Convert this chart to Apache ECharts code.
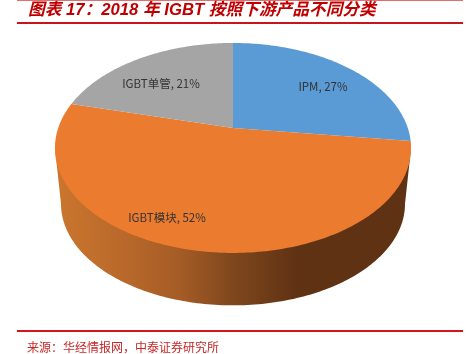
<!DOCTYPE html>
<html>
<head>
<meta charset="utf-8">
<style>
html,body{margin:0;padding:0;background:#fff;}
#main{width:466px;height:354px;}
</style>
<script src="https://cdn.jsdelivr.net/npm/echarts@6/dist/echarts.min.js"></script>
</head>
<body>
<div id="main"></div>
<script>
var names = ['IPM', 'IGBT模块', 'IGBT单管'];
var values = [27, 52, 21];
var titleText = '图表 17：2018 年 IGBT 按照下游产品不同分类';
var sourceText = '来源：华经情报网，中泰证券研究所';

var colors = ['#5b9bd5', '#ea7b2f', '#a5a5a5'];
var labelPos = [[323, 87], [167, 218], [161, 84]];

// tilted disc: perspective projection of a circle, apex is the pie centre
var cx = 233, cy = 128, A = 174.8, B = 101.2, k = 0.19;
var depth = 56, shrink = 0.966;
var total = 0;
for(var i=0; i<values.length; i++){
	total += values[i];
}

function project(deg, bottom){
	var t = deg * Math.PI / 180;
	var u = Math.sin(t), v = Math.cos(t);
	var w = 1 + k * v;
	var s = bottom ? shrink : 1;
	return [cx + s * A * u / w, cy + (bottom ? depth + (1 - s) * 20 : 0) - s * B * v / w];
}

function sliceRange(index, api){
	var before = 0;
	for(var i=0; i<index; i++){
		before += values[i];
	}
	return [before / total * 360, (before + api.value(0)) / total * 360];
}

function renderTop(params, api){
	var r = sliceRange(params.dataIndex, api);
	var pts = [[cx, cy]];
	for(var d=r[0]; d<r[1]; d+=1){
		pts.push(project(d));
	}
	pts.push(project(r[1]));
	var p = labelPos[params.dataIndex];
	return {
		type: 'group',
		children: [{
			type: 'polygon',
			shape: {points: pts},
			style: {fill: colors[params.dataIndex]}
		}, {
			type: 'text',
			z2: 10,
			style: {
				x: p[0], y: p[1],
				text: names[params.dataIndex] + ', ' + api.value(0) + '%',
				fill: '#333',
				font: '11.5px "Liberation Sans Narrow", "Noto Sans CJK SC", sans-serif',
				align: 'center',
				verticalAlign: 'middle'
			}
		}]
	};
}

function renderSide(params, api){
	var r = sliceRange(params.dataIndex, api);
	// only the front part of the rim is visible
	var edge = Math.asin(k) * 180 / Math.PI;
	var from = Math.max(r[0], 90 + edge), to = Math.min(r[1], 270 - edge);
	if(from >= to){
		return;
	}
	var pts = [project(from)];
	for(var d=from; d<to; d+=1){
		pts.push(project(d, true));
	}
	pts.push(project(to, true));
	pts.push(project(to));
	return {
		type: 'polygon',
		shape: {points: pts},
		style: {
			fill: new echarts.graphic.LinearGradient(55, 0, 411, 0, [
				{offset: 0, color: '#cb762e'},
				{offset: 0.2, color: '#b8682a'},
				{offset: 0.35, color: '#a55c26'},
				{offset: 0.5, color: '#7f471d'},
				{offset: 0.68, color: '#5f3214'},
				{offset: 1, color: '#5f3214'}
			], true)
		}
	};
}

var myChart = echarts.init(document.getElementById('main'), null, {renderer: 'canvas'});
var option = {
	animation: false,
	backgroundColor: '#fff',
	title: [{
		text: titleText,
		left: 28,
		top: 2,
		padding: 0,
		textStyle: {
			color: '#c00000',
			fontSize: 16.7,
			fontStyle: 'italic',
			fontWeight: 'bold',
			fontFamily: '"Liberation Sans", "Noto Sans CJK SC", sans-serif'
		}
	}, {
		text: sourceText,
		left: 27,
		top: 341,
		padding: 0,
		textStyle: {
			color: '#c62828',
			fontSize: 12,
			fontWeight: 'normal',
			fontFamily: '"Noto Sans CJK SC", sans-serif'
		}
	}],
	graphic: [
		{type: 'line', shape: {x1: 17, y1: 0.5, x2: 463, y2: 0.5}, style: {stroke: '#e07070', lineWidth: 1}},
		{type: 'line', shape: {x1: 17, y1: 23, x2: 463, y2: 23}, style: {stroke: '#c8141c', lineWidth: 2}},
		{type: 'line', shape: {x1: 17, y1: 331, x2: 463, y2: 331}, style: {stroke: '#d8141c', lineWidth: 2}}
	],
	series: [{
		type: 'custom',
		coordinateSystem: 'none',
		z: 1,
		silent: true,
		renderItem: renderSide,
		data: values
	}, {
		type: 'custom',
		coordinateSystem: 'none',
		z: 2,
		silent: true,
		renderItem: renderTop,
		data: values
	}]
};
myChart.setOption(option);
</script>
</body>
</html>
